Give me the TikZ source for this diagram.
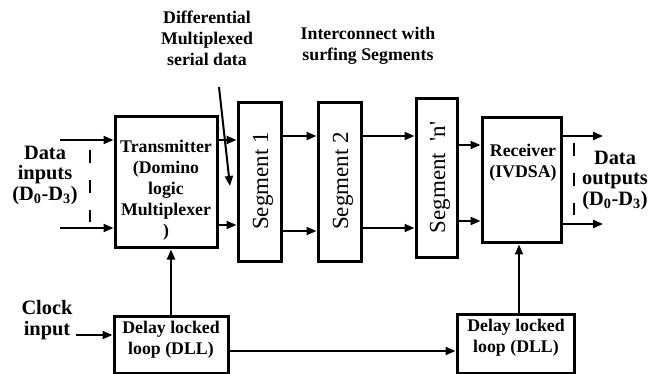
\documentclass[tikz,border=0pt]{standalone}
\usepackage{fontspec}
\setmainfont{Liberation Serif}
\usetikzlibrary{arrows.meta}
\begin{document}
\begin{tikzpicture}[x=1pt,y=-1pt,
  box/.style={draw,line width=3pt,minimum width=#1,inner sep=0pt},
  arr/.style={line width=2pt,-{Triangle[length=10pt,width=8pt]}},
  plain/.style={line width=2pt},
  dsh/.style={line width=2pt,dash pattern=on 13pt off 17pt},
  lbl/.style={font=\fontsize{17.8}{21}\selectfont\bfseries,align=center,inner sep=0pt},
  big/.style={font=\fontsize{20.4}{20.5}\selectfont\bfseries,align=center,inner sep=0pt},
  seg/.style={font=\fontsize{23}{23}\selectfont,rotate=90,inner sep=0pt}]
\useasboundingbox (0,0) rectangle (664,374);
% boxes
\node[box=102pt,minimum height=131pt] (tx) at (166,182.5) {};
\node[box=43pt,minimum height=158pt] (s1) at (259.5,182) {};
\node[box=43pt,minimum height=158pt] (s2) at (339.5,182) {};
\node[box=41pt,minimum height=158pt] (sn) at (436.5,178) {};
\node[box=79pt,minimum height=125pt] (rx) at (521.5,180.5) {};
\node[box=114pt,minimum height=57pt] (d1) at (171,344.5) {};
\node[box=117pt,minimum height=59pt] (d2) at (515.5,343.5) {};
% box texts
\node[lbl] (txt) at (166,190) {Transmitter\\(Domino\\logic\\Multiplexer\\)};
\node[seg] (s1t) at (263,181) {Segment 1};
\node[seg] (s2t) at (343,181) {Segment 2};
\node[seg] (snt) at (440,177.5) {Segment\ \ \textquotesingle n\textquotesingle};
\node[lbl] (rxt) at (523,163) {Receiver\\(IVDSA)};
\node[lbl] (d1t) at (171,340) {Delay locked\\loop (DLL)};
\node[lbl] (d2t) at (516,338) {Delay locked\\loop (DLL)};
% outside labels
\node[lbl] (diff) at (207,38) {Differential\\Multiplexed\\serial data};
\node[lbl] (ic) at (368,46) {Interconnect with\\surfing Segments};
\node[big] (din) at (45,175) {Data\\inputs\\(D\textsubscript{0}-D\textsubscript{3})};
\node[big] (dout) at (615,180) {Data\\outputs\\(D\textsubscript{0}-D\textsubscript{3})};
\node[big] (clk) at (47,320) {Clock\\input};
% coordinates
\coordinate (i1) at (60,140);
\coordinate (i2) at (60,228);
\coordinate (o1) at (603,136);
\coordinate (o2) at (603,224);
\coordinate (ck) at (76,335);
\coordinate (da) at (219,87);
\coordinate (db) at (230,186);
% connectors
\draw[arr] (i1) -- (tx.west |- i1);
\draw[arr] (i2) -- (tx.west |- i2);
\draw[arr] (tx.east |- 0,140) -- (s1.west |- 0,140);
\draw[arr] (tx.east |- 0,225) -- (s1.west |- 0,225);
\draw[arr] (s1.east |- 0,136) -- (s2.west |- 0,136);
\draw[arr] (s1.east |- 0,231) -- (s2.west |- 0,231);
\draw[arr] (s2.east |- 0,136) -- (sn.west |- 0,136);
\draw[arr] (s2.east |- 0,228) -- (sn.west |- 0,228);
\draw[arr] (sn.east |- 0,145) -- (rx.west |- 0,145);
\draw[arr] (sn.east |- 0,221) -- (rx.west |- 0,221);
\draw[arr] (rx.east |- o1) -- (o1);
\draw[arr] (rx.east |- o2) -- (o2);
\draw[arr] (da) -- (db);
\draw[arr] (d1.north) -- (d1.north |- tx.south);
\draw[arr] (519,0 |- d2.north) -- (519,0 |- rx.south);
\draw[arr] (ck) -- (d1.west |- ck);
\draw[arr] (d1.east |- 0,351) -- (d2.west |- 0,351);
% dashed lines
\draw[dsh] (90,150) -- (90,222);
\draw[dsh] (574,143) -- (574,215);
\end{tikzpicture}
\end{document}
